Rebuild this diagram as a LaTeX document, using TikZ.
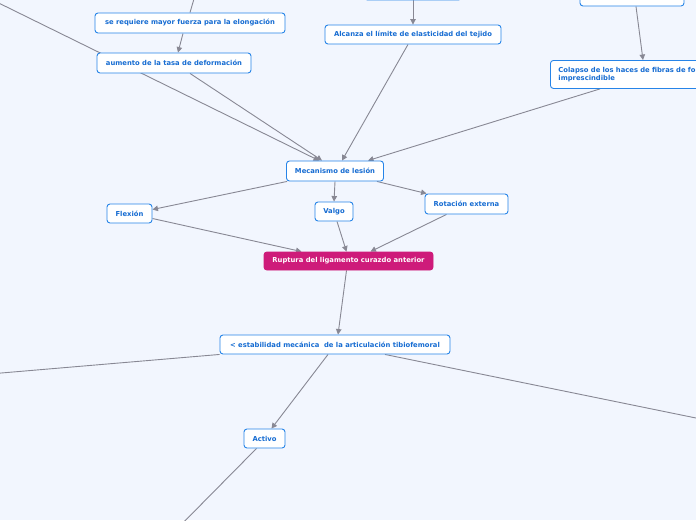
\documentclass[tikz,border=0pt]{standalone}
\usepackage{fontspec}
\usepackage{tikz}
\usetikzlibrary{arrows.meta,calc}
\newfontfamily\mapfont{DejaVu Sans}
\definecolor{mapback}{RGB}{242,246,254}
\definecolor{mapblue}{RGB}{38,132,232}
\definecolor{maptext}{RGB}{22,108,210}
\definecolor{mapline}{RGB}{136,136,148}
\definecolor{mapmagenta}{RGB}{206,27,122}
\pgfdeclarelayer{paper}
\pgfdeclarelayer{links}
\pgfsetlayers{paper,links,main}

\begin{document}
\begin{tikzpicture}[
      x=1pt, y=-1pt,
      topic/.style={draw=mapblue, fill=white, rounded corners=3pt, line width=0.9pt, inner sep=0pt,
        text=maptext, font=\mapfont\bfseries\fontsize{6.8}{8.4}\selectfont, align=center},
      central/.style={topic, draw=mapmagenta, fill=mapmagenta, text=white},
      link/.style={draw=mapline, line width=0.9pt, -{Triangle[length=5.5pt,width=5.5pt]}}
    ]
      \useasboundingbox (0,0) rectangle (696,520);
      \begin{pgfonlayer}{paper}
        \fill[mapback] (0,0) rectangle (696,520);
      \end{pgfonlayer}
      \clip (0,0) rectangle (696,520);

      \coordinate (upleft) at (-40,-16);
      \coordinate (upsereq) at (196,-8);
      \coordinate (outleft) at (-40,376.5);
      \coordinate (outright) at (740,427);
      \coordinate (outdown) at (170,536);

      \node[topic, minimum width=97pt, minimum height=20pt] (topmid) at (413,-10) {};
      \node[topic, minimum width=104pt, minimum height=20pt] (topright) at (632,-4) {};
      \node[topic, minimum width=190pt, minimum height=20pt] (sereq) at (190,23) {se requiere mayor fuerza para la elongación};
      \node[topic, minimum width=154pt, minimum height=20pt] (aum) at (174,63) {aumento de la tasa de deformación};
      \node[topic, minimum width=176pt, minimum height=19pt] (alc) at (413,34.5) {Alcanza el límite de elasticidad del tejido};
      \node[topic, anchor=north west, text width=200pt, minimum height=28pt, inner xsep=8pt, align=left] (colapso) at (550,60) {Colapso de los haces de fibras de forma\\imprescindible};
      \node[topic, minimum width=97pt, minimum height=20pt] (mec) at (335,171) {Mecanismo de lesión};
      \node[topic, minimum width=45pt, minimum height=19pt] (flex) at (129.5,213.5) {Flexión};
      \node[topic, minimum width=38pt, minimum height=19pt] (valgo) at (334,211.5) {Valgo};
      \node[topic, minimum width=83pt, minimum height=20pt] (rot) at (466.5,204) {Rotación externa};
      \node[central, minimum width=169pt, minimum height=18pt] (rupt) at (348.5,261) {Ruptura del ligamento curazdo anterior};
      \node[topic, minimum width=230pt, minimum height=19pt] (estab) at (335,344.5) {< estabilidad mecánica~ de la articulación tibiofemoral};
      \node[topic, minimum width=41pt, minimum height=19pt] (activo) at (264.5,438.5) {Activo};

      \begin{pgfonlayer}{links}
      \draw[link] (upleft) -- ([xshift=-16pt]mec.north);
      \draw[link] (sereq.north) -- (upsereq);
      \draw[link] ([xshift=-7pt]sereq.south) -- ([xshift=4pt]aum.north);
      \draw[link] ([xshift=16pt]aum.south) -- ([xshift=-13pt]mec.north);
      \draw[link] (topmid.south) -- (alc.north);
      \draw[link] ([xshift=-5pt]alc.south) -- ([xshift=7pt]mec.north);
      \draw[link] ([xshift=4pt]topright.south) -- ([xshift=93pt]colapso.north west);
      \draw[link] ([xshift=50pt]colapso.south west) -- ([xshift=33pt]mec.north);
      \draw[link] ([xshift=1pt]mec.south west) -- ([yshift=4pt]flex.east);
      \draw[link] (mec.south) -- (valgo.north);
      \draw[link] ([xshift=-7pt]mec.south east) -- ([xshift=2pt]rot.north west);
      \draw[link] ([yshift=-5pt]flex.east) -- ([xshift=-47pt]rupt.north);
      \draw[link] ([xshift=3pt]valgo.south) -- ([xshift=-2pt]rupt.north);
      \draw[link] ([xshift=-20pt]rot.south) -- ([xshift=22pt]rupt.north);
      \draw[link] ([xshift=-2pt]rupt.south) -- ([xshift=3pt]estab.north);
      \draw[link] (estab.south west) -- (outleft);
      \draw[link] ([xshift=50pt]estab.south) -- (outright);
      \draw[link] ([xshift=-7pt]estab.south) -- ([xshift=7pt]activo.north);
      \draw[link] ([xshift=-8pt]activo.south) -- (outdown);
      \end{pgfonlayer}
    \end{tikzpicture}
\end{document}
